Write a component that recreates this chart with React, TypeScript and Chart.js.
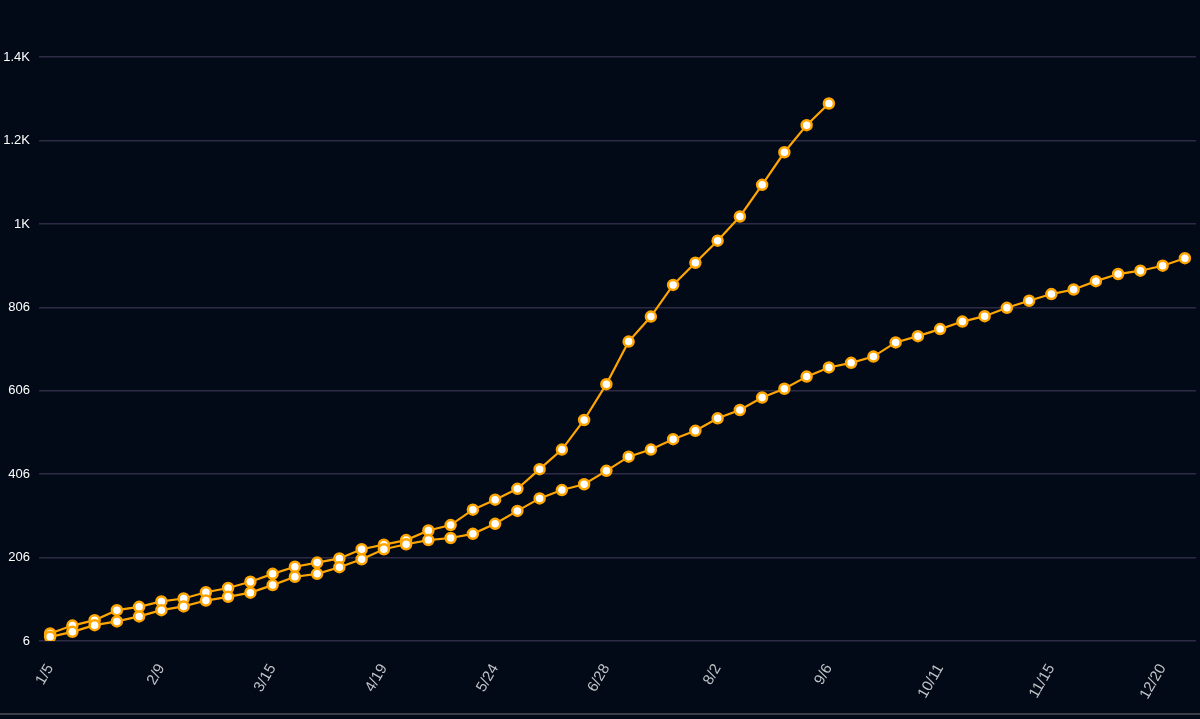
import React, { useEffect, useRef } from "react";
import { Chart, registerables } from "chart.js";

Chart.register(...registerables);

const weekLabels: string[] = [
  "1/5", "1/12", "1/19", "1/26", "2/2", "2/9", "2/16", "2/23", "3/1", "3/8",
  "3/15", "3/22", "3/29", "4/5", "4/12", "4/19", "4/26", "5/3", "5/10", "5/17",
  "5/24", "5/31", "6/7", "6/14", "6/21", "6/28", "7/5", "7/12", "7/19", "7/26",
  "8/2", "8/9", "8/16", "8/23", "8/30", "9/6", "9/13", "9/20", "9/27", "10/4",
  "10/11", "10/18", "10/25", "11/1", "11/8", "11/15", "11/22", "11/29", "12/6", "12/13",
  "12/20", "12/27",
];

const seriesSteep: number[] = [
  24, 43, 56, 80, 88, 101, 108, 123, 133, 148,
  167, 184, 194, 204, 226, 237, 248, 271, 284, 321,
  345, 371, 418, 465, 536, 622, 724, 784, 860, 913,
  966, 1024, 1100, 1178, 1243, 1295,
];

const seriesSteady: number[] = [
  16, 28, 44, 53, 65, 80, 89, 103, 112, 122,
  140, 160, 167, 183, 202, 226, 238, 248, 253, 263,
  287, 318, 348, 368, 382, 414, 448, 465, 490, 510,
  540, 560, 590, 611, 640, 662, 673, 688, 722, 737,
  754, 772, 785, 805, 822, 838, 849, 869, 886, 894,
  906, 924,
];

const yTickValues: number[] = [6, 206, 406, 606, 806, 1006, 1206, 1406];
const labelEvery = 5;

const ORANGE = "#ffa500";
const BG = "#020a17";
const GRID = "#2e2a46";

function formatY(v: number): string {
  if (v >= 1000) return parseFloat((v / 1000).toFixed(1)) + "K";
  return String(v);
}

export default function App() {
  const ref = useRef<HTMLCanvasElement | null>(null);

  useEffect(() => {
    if (!ref.current) return;
    const mkDataset = (data: number[]) => ({
      data,
      borderColor: ORANGE,
      borderWidth: 2.2,
      backgroundColor: ORANGE,
      pointRadius: 5,
      pointBorderWidth: 2.5,
      pointBackgroundColor: "#ffffff",
      pointBorderColor: ORANGE,
      tension: 0,
      fill: false,
    });
    const chart = new Chart(ref.current, {
      type: "line",
      data: {
        labels: weekLabels,
        datasets: [mkDataset(seriesSteady), mkDataset(seriesSteep)],
      },
      options: {
        animation: false,
        responsive: false,
        maintainAspectRatio: false,
        devicePixelRatio: 1,
        layout: { autoPadding: false, padding: { top: 18, right: 4, left: 0, bottom: 0 } },
        plugins: {
          legend: { display: false },
          tooltip: { enabled: false },
        },
        scales: {
          x: {
            type: "category",
            offset: true,
            grid: { display: false, drawTicks: false },
            border: { display: false },
            afterFit: (scale: any) => {
              scale.height = 78;
              scale.paddingLeft = 0;
              scale.paddingRight = 0;
            },
            ticks: {
              autoSkip: false,
              minRotation: 60,
              maxRotation: 60,
              padding: 20,
              color: "#c2c4c8",
              font: { family: "'Liberation Sans', Arial, sans-serif", size: 15 },
              callback: (_v: any, i: number) => (i % labelEvery === 0 ? weekLabels[i] : ""),
            },
          },
          y: {
            type: "linear",
            min: 6,
            max: 1500,
            grid: { color: GRID, lineWidth: 1.5, drawTicks: false },
            border: { display: false },
            afterFit: (scale: any) => {
              scale.width = 39;
            },
            afterBuildTicks: (scale: any) => {
              scale.ticks = yTickValues.map((value) => ({ value }));
            },
            ticks: {
              padding: 9,
              color: "#ffffff",
              font: { family: "'Liberation Sans', Arial, sans-serif", size: 13 },
              callback: (v: any) => formatY(Number(v)),
            },
          },
        },
      },
    });
    return () => chart.destroy();
  }, []);

  return (
    <div
      style={{
        position: "fixed",
        left: 0,
        top: 0,
        width: 1200,
        height: 719,
        background: BG,
      }}
    >
      <canvas ref={ref} width={1200} height={719} style={{ display: "block" }} />
      <div
        style={{
          position: "absolute",
          left: 0,
          top: 713,
          width: 1200,
          height: 2,
          background: "#3a3e48",
        }}
      />
    </div>
  );
}
